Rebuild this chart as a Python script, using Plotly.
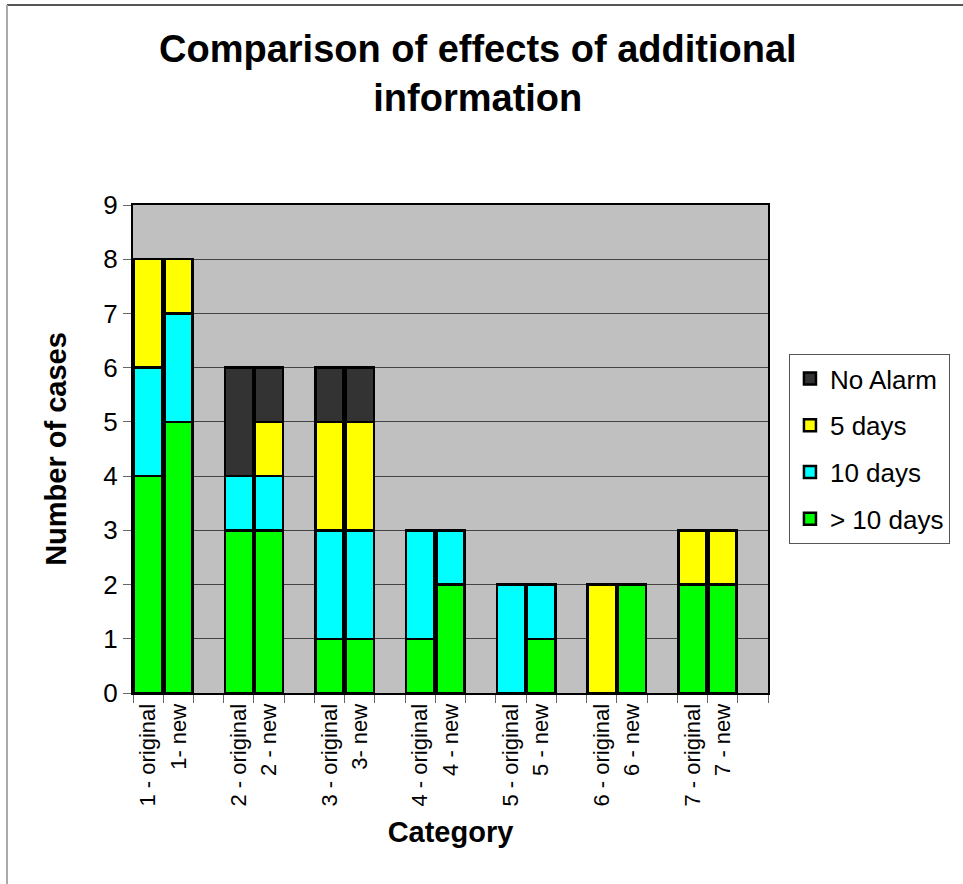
import plotly.graph_objects as go

# Categories (blank slots separate the pairs)
categories = ["1 - original", "1- new", " ",
              "2 - original", "2 - new", "  ",
              "3 - original", "3- new", "   ",
              "4 - original", "4 - new", "    ",
              "5 - original", "5 - new", "     ",
              "6 - original", "6 - new", "      ",
              "7 - original", "7 - new", "       "]

over_10_days = [4, 5, None, 3, 3, None, 1, 1, None, 1, 2, None, 0, 1, None, 0, 2, None, 2, 2, None]
ten_days     = [2, 2, None, 1, 1, None, 2, 2, None, 2, 1, None, 2, 1, None, 0, 0, None, 0, 0, None]
five_days    = [2, 1, None, 0, 1, None, 2, 2, None, 0, 0, None, 0, 0, None, 2, 0, None, 1, 1, None]
no_alarm     = [0, 0, None, 2, 1, None, 1, 1, None, 0, 0, None, 0, 0, None, 0, 0, None, 0, 0, None]

# (name, values, colour, legend rank) - stacked bottom to top
series = [
    ("> 10 days", over_10_days, "#00ff00", 4),
    ("10 days", ten_days, "#00ffff", 3),
    ("5 days", five_days, "#ffff00", 2),
    ("No Alarm", no_alarm, "#333333", 1),
]

fig = go.Figure()
for name, vals, color, rank in series:
    fig.add_trace(go.Bar(
        x=categories, y=vals, name=name, legendgroup=name, legendrank=rank,
        marker=dict(color=color, line=dict(color="black", width=2.5)),
    ))

font_family = "Liberation Sans, Arial, sans-serif"

fig.update_layout(
    barmode="stack",
    bargap=0.07,
    width=963, height=884,
    margin=dict(l=133, r=195, t=205, b=191),
    paper_bgcolor="white",
    plot_bgcolor="#c0c0c0",
    font=dict(family=font_family, color="black"),
    legend=dict(
        x=1.033, xanchor="left", y=0.5, yanchor="middle",
        traceorder="grouped",
        bordercolor="#555555", borderwidth=1, bgcolor="white",
        font=dict(size=26, family=font_family),
        tracegroupgap=10, itemwidth=30,
    ),
    showlegend=True,
)

# Chart title
fig.add_annotation(
    text="<b>Comparison of effects of additional<br>information</b>",
    xref="paper", yref="paper",
    x=(478 - 133) / 635, y=(693 - 73) / 488,
    xanchor="center", yanchor="middle", showarrow=False,
    font=dict(size=38, family=font_family, color="black"),
)

fig.update_xaxes(
    type="category",
    categoryorder="array", categoryarray=categories,
    tickangle=-90,
    tickfont=dict(size=22, family=font_family),
    ticks="outside", tickson="boundaries", ticklen=8, tickcolor="#666666",
    showline=True, linecolor="black", linewidth=2, mirror=True,
    title=dict(text="<b>Category</b>", font=dict(size=29, family=font_family), standoff=16),
)
fig.update_yaxes(
    range=[0, 9], dtick=1,
    tickfont=dict(size=26, family=font_family),
    ticks="outside", ticklen=8, tickcolor="#666666",
    showgrid=True, gridcolor="#444444", gridwidth=1,
    showline=True, linecolor="black", linewidth=2, mirror=True,
    zeroline=False,
    title=dict(text="<b>Number of cases</b>", font=dict(size=29, family=font_family), standoff=28),
)

# Frame lines around the chart
fig.add_shape(type="line", xref="paper", yref="paper",
              x0=(7 - 133) / 635, x1=(963 - 133) / 635,
              y0=(693 - 5) / 488, y1=(693 - 5) / 488,
              line=dict(color="#555555", width=2), layer="below")
fig.add_shape(type="line", xref="paper", yref="paper",
              x0=(7 - 133) / 635, x1=(7 - 133) / 635,
              y0=(693 - 884) / 488, y1=(693 - 5) / 488,
              line=dict(color="#aaaaaa", width=2), layer="below")

fig.write_html("out.html")
